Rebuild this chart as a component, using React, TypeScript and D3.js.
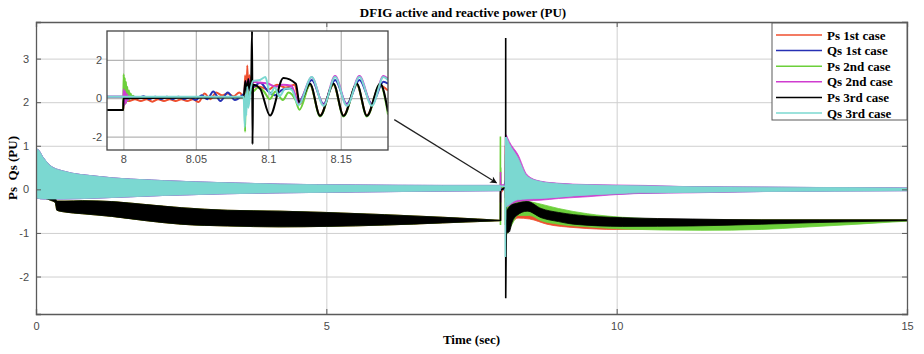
import * as d3 from 'd3';
import React, { useEffect, useRef } from 'react';

const W = 924;
const H = 354;

// tick values
const xTicks = [0, 5, 10, 15];
const yTicks = [-2, -1, 0, 1, 2, 3];
const insetXTicks = [8, 8.05, 8.1, 8.15];
const insetYTicks = [-2, 0, 2];

const seriesNames = ['Ps 1st case', 'Qs 1st case', 'Ps 2nd case', 'Qs 2nd case', 'Ps 3rd case', 'Qs 3rd case'];
const seriesColors = ['#ef4f2f', '#2630b4', '#6ccf3a', '#cf3ccf', '#000000', '#7bd8d1'];

// envelopes of the fast oscillation, [t, lo, hi], 0..8 s (same for all 3 cases)
const psPre: number[][] = [
  [0, -0.02, 0.02], [0.05, -0.12, -0.03], [0.25, -0.25, -0.15], [0.33, -0.3, -0.2],
  [0.36, -0.48, -0.27], [0.5, -0.52, -0.27], [0.8, -0.56, -0.26], [1.3, -0.62, -0.28],
  [1.9, -0.72, -0.35], [2.5, -0.8, -0.42], [3.3, -0.84, -0.48], [4.2, -0.86, -0.5],
  [5.0, -0.85, -0.53], [6.0, -0.82, -0.58], [7.0, -0.77, -0.64], [7.6, -0.74, -0.68], [8.0, -0.72, -0.71],
];
const qsPre: number[][] = [
  [0, -0.15, 0.7], [0.02, -0.2, 0.92], [0.13, -0.22, 0.72], [0.24, -0.22, 0.55],
  [0.47, -0.22, 0.42], [1.05, -0.2, 0.3], [2.2, -0.14, 0.2], [3.3, -0.1, 0.15],
  [4.2, -0.08, 0.12], [5.5, -0.06, 0.1], [7.0, -0.04, 0.09], [8.0, -0.03, 0.09],
];

// fault transient at main scale [t, v]
const ps1Fault = [[7.999, -0.72], [8.0, -0.1], [8.083, 0.1], [8.0855, 1.0], [8.087, -0.3], [8.095, 0.55], [8.1, -0.95], [8.11, -0.75]];
const qs1Fault = [[7.999, 0.06], [8.05, 0.0], [8.083, 0.2], [8.086, -0.2], [8.09, 0.6], [8.1, 0.9], [8.11, 0.5]];
const ps2Fault = [[7.995, -0.72], [7.998, 1.21], [7.999, -0.82], [8.003, 0.5], [8.01, 0.05], [8.083, 0.05], [8.084, -0.82], [8.086, 0.8], [8.095, 0.2], [8.11, -0.5]];
const qs2Fault = [[7.999, 0.06], [8.0, 0.4], [8.001, -0.3], [8.003, 0.1], [8.083, 0.1], [8.086, 0.6], [8.09, 1.25], [8.1, 1.2]];
const ps3Fault = [[7.999, -0.72], [8.0, -0.02], [8.088, 0.05], [8.089, 3.47], [8.0895, -2.5], [8.1, -0.8], [8.11, -0.6]];
const qs3Fault = [[7.999, 0.07], [8.083, 0.07], [8.084, -1.55], [8.0855, 0.8], [8.087, -0.7], [8.09, 1.2], [8.1, -0.3], [8.11, 1.0]];

// post-fault envelopes [t, lo, hi]
const ps1Post = [
  [8.1, -1.0, -0.5], [8.3, -0.66, -0.35], [8.5, -0.68, -0.3], [8.8, -0.8, -0.45], [9.3, -0.88, -0.58],
  [10.0, -0.92, -0.66], [11.0, -0.9, -0.69], [12.0, -0.85, -0.7], [13.0, -0.8, -0.7], [14.0, -0.76, -0.7], [15.0, -0.72, -0.7],
];
const qs1Post = [
  [8.1, -0.4, 1.15], [8.15, -0.36, 1.0], [8.29, -0.24, 0.72], [8.46, -0.22, 0.3], [8.68, -0.21, 0.18], [9.0, -0.17, 0.13],
  [9.5, -0.14, 0.1], [10.4, -0.09, 0.08], [11.3, -0.07, 0.06], [12.5, -0.05, 0.05], [15.0, -0.03, 0.03],
];
const ps2Post = [
  [8.1, -1.05, -0.4], [8.2, -0.8, -0.2], [8.3, -0.6, -0.22], [8.5, -0.6, -0.28], [8.7, -0.72, -0.34], [9.0, -0.8, -0.44],
  [9.5, -0.86, -0.56], [10.1, -0.91, -0.64], [11.45, -0.94, -0.7], [12.5, -0.92, -0.7], [13.2, -0.87, -0.7],
  [14.0, -0.81, -0.7], [14.5, -0.77, -0.7], [15.0, -0.73, -0.7],
];
const qs2Post = [
  [8.1, -0.4, 1.25], [8.15, -0.37, 1.1], [8.3, -0.28, 0.8], [8.46, -0.26, 0.33], [8.68, -0.25, 0.19], [9.0, -0.21, 0.14],
  [9.5, -0.17, 0.11], [10.0, -0.12, 0.1], [10.5, -0.09, 0.09], [11.3, -0.08, 0.06], [12.5, -0.05, 0.05], [15.0, -0.03, 0.03],
];
const ps3Post = [
  [8.1, -1.0, -0.5], [8.15, -0.98, -0.4], [8.2, -0.75, -0.35], [8.28, -0.6, -0.32], [8.46, -0.5, -0.28],
  [8.7, -0.65, -0.44], [9.0, -0.74, -0.53], [9.26, -0.8, -0.58], [10.1, -0.85, -0.65], [11.3, -0.84, -0.68],
  [12.5, -0.8, -0.7], [13.5, -0.76, -0.7], [14.5, -0.73, -0.7], [15.0, -0.72, -0.7],
];
const qs3Post = [
  [8.1, -0.4, 1.2], [8.15, -0.35, 1.05], [8.29, -0.24, 0.75], [8.46, -0.22, 0.3], [8.68, -0.21, 0.18], [9.0, -0.18, 0.13],
  [9.26, -0.15, 0.11], [10.0, -0.1, 0.09], [10.4, -0.08, 0.08], [11.3, -0.07, 0.06], [12.5, -0.05, 0.05],
  [14.0, -0.04, 0.04], [15.0, -0.03, 0.03],
];

// zoomed waveforms (inset), [t, v]
const ps1Zoom = [
  [7.9887, -0.62], [7.9999, -0.62], [8.0002, -0.1], [8.004, -0.15], [8.008, -0.05], [8.012, -0.15], [8.016, -0.05],
  [8.02, -0.18], [8.024, -0.05], [8.028, -0.15], [8.032, -0.05], [8.036, -0.15], [8.04, -0.05], [8.044, -0.15],
  [8.048, -0.05], [8.052, -0.2], [8.056, 0.25], [8.06, -0.05], [8.064, 0.3], [8.068, 0.15], [8.072, 0.25],
  [8.076, 0.1], [8.08, 0.3], [8.0835, 0.05], [8.084, 1.2], [8.0848, -0.3], [8.0855, 1.7], [8.0862, 0.3],
  [8.087, 1.2], [8.0885, 0.6], [8.094, 0.6], [8.1, 0.45], [8.106, 0.7], [8.112, 0.55], [8.118, 0.7], [8.1219, -0.3],
  [8.1288, 0.7], [8.1357, -0.9], [8.145, 0.7], [8.1519, -0.9], [8.1611, 0.7], [8.168, -0.9], [8.1772, 0.65], [8.1826, 0.4],
];
const qs1Zoom = [
  [7.9887, 0.07], [8.0, 0.07], [8.002, 0.0], [8.006, 0.1], [8.01, 0.0], [8.014, 0.1], [8.018, -0.05], [8.022, 0.08],
  [8.026, -0.05], [8.03, 0.08], [8.034, -0.05], [8.038, 0.08], [8.042, -0.05], [8.046, 0.05], [8.05, -0.1],
  [8.054, 0.15], [8.058, -0.05], [8.062, 0.35], [8.067, -0.15], [8.072, 0.3], [8.077, -0.1], [8.082, 0.15],
  [8.0845, 0.3], [8.0855, -0.1], [8.0865, 0.5], [8.09, 0.6], [8.0943, 0.8], [8.1, 0.35], [8.1045, 0.15],
  [8.11, 0.45], [8.116, 0.5], [8.1208, -0.2], [8.13, 0.95], [8.1381, -0.3], [8.1461, 0.95], [8.1542, -0.3],
  [8.1629, 0.95], [8.1715, -0.3], [8.1795, 0.85], [8.1826, 0.75],
];
const ps2Zoom = [
  [7.9887, -0.62], [7.9999, -0.62], [8.0002, 1.25], [8.0006, -0.35], [8.001, 1.05], [8.0014, -0.3], [8.0018, 0.85],
  [8.0022, -0.2], [8.0027, 0.6], [8.0032, -0.15], [8.0038, 0.4], [8.0044, -0.05], [8.005, 0.25], [8.0058, 0.0],
  [8.0066, 0.12], [8.0075, 0.05], [8.083, 0.05], [8.0836, 0.4], [8.084, -1.75], [8.0845, 0.8], [8.0855, -0.2],
  [8.0865, 0.9], [8.0885, 0.3], [8.093, 0.55], [8.097, 0.35], [8.101, -0.05], [8.105, 0.35], [8.11, -0.1],
  [8.114, 0.3], [8.1188, -0.1], [8.1215, -0.6], [8.1288, 0.7], [8.1357, -0.95], [8.145, 0.72], [8.1519, -0.95],
  [8.1611, 0.72], [8.168, -0.95], [8.1772, 0.72], [8.1826, -0.85],
];
const qs2Zoom = [
  [7.9887, 0.07], [8.0, 0.07], [8.0003, 0.45], [8.0008, -0.35], [8.0013, 0.35], [8.0018, -0.25], [8.0024, 0.2],
  [8.003, -0.1], [8.0038, 0.1], [8.005, 0.05], [8.083, 0.07], [8.0845, 0.9], [8.0855, 0.3], [8.0865, 1.0],
  [8.0875, 0.5], [8.09, 0.85], [8.095, 0.8], [8.1, 0.75], [8.105, 0.6], [8.11, 0.7], [8.116, 0.65], [8.1208, -0.25],
  [8.13, 1.1], [8.1381, -0.35], [8.1461, 1.15], [8.1542, -0.35], [8.1629, 1.15], [8.1715, -0.35], [8.1795, 1.15], [8.1826, 1.0],
];
const ps3Zoom = [
  [7.9887, -0.62], [7.9999, -0.62], [8.0001, 0.0], [8.083, 0.05], [8.0842, 0.9], [8.0852, 0.3], [8.0862, 1.0],
  [8.0872, 0.4], [8.0882, 0.9], [8.0888, 3.5], [8.0891, -2.4], [8.0895, 0.7], [8.0943, 0.5], [8.1012, -0.9],
  [8.1104, 1.05], [8.119, 0.75], [8.1215, -0.25], [8.1288, 0.75], [8.1357, -0.92], [8.145, 0.75], [8.1519, -0.92],
  [8.1611, 0.75], [8.168, -0.92], [8.1772, 0.75], [8.1826, -0.7],
];
const qs3Zoom = [
  [7.9887, 0.07], [8.0, 0.07], [8.083, 0.07], [8.0838, -1.5], [8.0843, 0.2], [8.0848, -0.9], [8.0855, 0.6],
  [8.0862, -0.5], [8.0875, 0.3], [8.0895, 0.9], [8.0943, 0.95], [8.098, 1.1], [8.1012, 0.2], [8.1045, 0.55],
  [8.1075, 0.1], [8.112, 0.5], [8.116, 0.45], [8.1208, -0.35], [8.13, 1.1], [8.1381, -0.4], [8.1461, 1.1],
  [8.1542, -0.4], [8.1629, 1.1], [8.1715, -0.4], [8.1795, 1.1], [8.1826, 0.95],
];

// arrow annotation, in data units of main axes
const arrowFrom = [6.17, 1.6];
const arrowTo = [7.93, 0.15];

const preBands = [psPre, qsPre, psPre, qsPre, psPre, qsPre];
const faults = [ps1Fault, qs1Fault, ps2Fault, qs2Fault, ps3Fault, qs3Fault];
const postBands = [ps1Post, qs1Post, ps2Post, qs2Post, ps3Post, qs3Post];
const zooms = [ps1Zoom, qs1Zoom, ps2Zoom, qs2Zoom, ps3Zoom, qs3Zoom];

const serif = '"Liberation Serif", "Times New Roman", serif';
const sans = '"Liberation Sans", Arial, sans-serif';

export default function App() {
  const svgRef = useRef<SVGSVGElement>(null);

  useEffect(() => {
    const svg = d3.select(svgRef.current);
    svg.selectAll('*').remove();

    const m = { left: 36, top: 22, right: 907, bottom: 314 };
    const x = d3.scaleLinear().domain([0, 15]).range([m.left, m.right]);
    const y = d3.scaleLinear().domain([-2.86, 3.84]).range([m.bottom, m.top]);

    svg.append('rect').attr('width', W).attr('height', H).attr('fill', '#fff');

    const defs = svg.append('defs');
    defs.append('clipPath').attr('id', 'mainClip')
      .append('rect').attr('x', m.left).attr('y', m.top)
      .attr('width', m.right - m.left).attr('height', m.bottom - m.top);
    defs.append('marker').attr('id', 'arrowHead')
      .attr('viewBox', '0 0 10 10').attr('refX', 9).attr('refY', 5)
      .attr('markerWidth', 9).attr('markerHeight', 7).attr('markerUnits', 'userSpaceOnUse')
      .attr('orient', 'auto')
      .append('path').attr('d', 'M0,0 L10,5 L0,10 L3,5 Z').attr('fill', '#111');

    // --- grid ---
    const grid = svg.append('g');
    grid.append('g').attr('transform', `translate(0,${m.bottom})`)
      .call(d3.axisBottom(x).tickValues(xTicks).tickSize(-(m.bottom - m.top)).tickFormat(() => ''));
    grid.append('g').attr('transform', `translate(${m.left},0)`)
      .call(d3.axisLeft(y).tickValues(yTicks).tickSize(-(m.right - m.left)).tickFormat(() => ''));
    grid.selectAll('.domain').remove();
    grid.selectAll('line').attr('stroke', '#cfcfcf').attr('stroke-width', 1);

    // --- data ---
    const plot = svg.append('g').attr('clip-path', 'url(#mainClip)');
    const band = d3.area<number[]>()
      .x(d => x(d[0])).y0(d => y(d[1])).y1(d => y(d[2]))
      .curve(d3.curveMonotoneX);
    const line = d3.line<number[]>().x(d => x(d[0])).y(d => y(d[1]));

    seriesColors.forEach((c, i) => {
      const g = plot.append('g');
      g.append('path').attr('d', band(preBands[i]))
        .attr('fill', c).attr('stroke', c).attr('stroke-width', 0.8);
      g.append('path').attr('d', line(faults[i]))
        .attr('fill', 'none').attr('stroke', c).attr('stroke-width', 1.6);
      g.append('path').attr('d', band(postBands[i]))
        .attr('fill', c).attr('stroke', c).attr('stroke-width', 0.8);
    });

    // --- main axes ---
    const fmt = (d: d3.NumberValue) => String(d);
    const axB = svg.append('g').attr('transform', `translate(0,${m.bottom})`)
      .call(d3.axisBottom(x).tickValues(xTicks).tickSize(-5).tickPadding(8).tickFormat(fmt));
    const axL = svg.append('g').attr('transform', `translate(${m.left},0)`)
      .call(d3.axisLeft(y).tickValues(yTicks).tickSize(-5).tickPadding(7).tickFormat(fmt));
    const axT = svg.append('g').attr('transform', `translate(0,${m.top})`)
      .call(d3.axisTop(x).tickValues(xTicks).tickSize(-5).tickFormat(() => ''));
    const axR = svg.append('g').attr('transform', `translate(${m.right},0)`)
      .call(d3.axisRight(y).tickValues(yTicks).tickSize(-5).tickFormat(() => ''));
    [axB, axL, axT, axR].forEach(a => {
      a.select('.domain').attr('stroke', '#5a5a5a').attr('stroke-width', 1.3);
      a.selectAll('.tick line').attr('stroke', '#5a5a5a');
      a.selectAll('text').attr('fill', '#4a4a4a').style('font-family', sans).style('font-size', '11px');
    });

    // --- arrow ---
    svg.append('line')
      .attr('x1', x(arrowFrom[0])).attr('y1', y(arrowFrom[1]))
      .attr('x2', x(arrowTo[0])).attr('y2', y(arrowTo[1]))
      .attr('stroke', '#222').attr('stroke-width', 1.2)
      .attr('marker-end', 'url(#arrowHead)');

    // --- inset ---
    const im = { left: 107, top: 31, right: 388, bottom: 150 };
    const xi = d3.scaleLinear().domain([7.9887, 8.1826]).range([im.left, im.right]);
    const yi = d3.scaleLinear().domain([-2.7, 3.5]).range([im.bottom, im.top]);
    defs.append('clipPath').attr('id', 'insetClip')
      .append('rect').attr('x', im.left).attr('y', im.top)
      .attr('width', im.right - im.left).attr('height', im.bottom - im.top);

    const inset = svg.append('g');
    inset.append('rect').attr('x', im.left).attr('y', im.top)
      .attr('width', im.right - im.left).attr('height', im.bottom - im.top).attr('fill', '#fff');
    const igrid = inset.append('g');
    igrid.append('g').attr('transform', `translate(0,${im.bottom})`)
      .call(d3.axisBottom(xi).tickValues(insetXTicks).tickSize(-(im.bottom - im.top)).tickFormat(() => ''));
    igrid.append('g').attr('transform', `translate(${im.left},0)`)
      .call(d3.axisLeft(yi).tickValues(insetYTicks).tickSize(-(im.right - im.left)).tickFormat(() => ''));
    igrid.selectAll('.domain').remove();
    igrid.selectAll('line').attr('stroke', '#b5b5b5').attr('stroke-width', 1.2);

    const iplot = inset.append('g').attr('clip-path', 'url(#insetClip)');
    const iline = d3.line<number[]>().x(d => xi(d[0])).y(d => yi(d[1])).curve(d3.curveMonotoneX);
    zooms.forEach((z, i) => {
      iplot.append('path').attr('d', iline(z))
        .attr('fill', 'none').attr('stroke', seriesColors[i])
        .attr('stroke-width', 2).attr('stroke-linejoin', 'round');
    });

    const iaxB = inset.append('g').attr('transform', `translate(0,${im.bottom})`)
      .call(d3.axisBottom(xi).tickValues(insetXTicks).tickSize(0).tickPadding(5).tickFormat(fmt));
    const iaxL = inset.append('g').attr('transform', `translate(${im.left},0)`)
      .call(d3.axisLeft(yi).tickValues(insetYTicks).tickSize(0).tickPadding(5).tickFormat(fmt));
    [iaxB, iaxL].forEach(a => {
      a.select('.domain').remove();
      a.selectAll('text').attr('fill', '#4a4a4a').style('font-family', sans).style('font-size', '11px');
    });
    inset.append('rect').attr('x', im.left).attr('y', im.top)
      .attr('width', im.right - im.left).attr('height', im.bottom - im.top)
      .attr('fill', 'none').attr('stroke', '#444').attr('stroke-width', 1.3);

    // --- legend ---
    const lg = svg.append('g');
    lg.append('rect').attr('x', 772).attr('y', 23).attr('width', 135).attr('height', 97)
      .attr('fill', '#fff').attr('stroke', '#5a5a5a').attr('stroke-width', 1);
    seriesNames.forEach((name, i) => {
      const ly = 35 + i * 15.6;
      lg.append('line').attr('x1', 776).attr('x2', 822).attr('y1', ly).attr('y2', ly)
        .attr('stroke', seriesColors[i]).attr('stroke-width', 1.5);
      lg.append('text').attr('x', 827).attr('y', ly).attr('dy', '0.35em')
        .style('font-family', serif).style('font-weight', 'bold').style('font-size', '13px')
        .text(name);
    });

    // --- titles ---
    svg.append('text').attr('x', 463).attr('y', 17).attr('text-anchor', 'middle')
      .style('font-family', serif).style('font-weight', 'bold').style('font-size', '13px')
      .text('DFIG active and reactive power (PU)');
    svg.append('text').attr('x', (m.left + m.right) / 2).attr('y', 344).attr('text-anchor', 'middle')
      .style('font-family', serif).style('font-weight', 'bold').style('font-size', '13px')
      .text('Time (sec)');
    svg.append('text').attr('transform', `translate(17,${(m.top + m.bottom) / 2}) rotate(-90)`)
      .attr('text-anchor', 'middle')
      .style('font-family', serif).style('font-weight', 'bold').style('font-size', '13px')
      .style('white-space', 'pre')
      .text('Ps  Qs (PU)');
  }, []);

  return (
    <div style={{ position: 'absolute', left: 0, top: 0, width: W, height: H }}>
      <svg ref={svgRef} width={W} height={H}></svg>
    </div>
  );
}
